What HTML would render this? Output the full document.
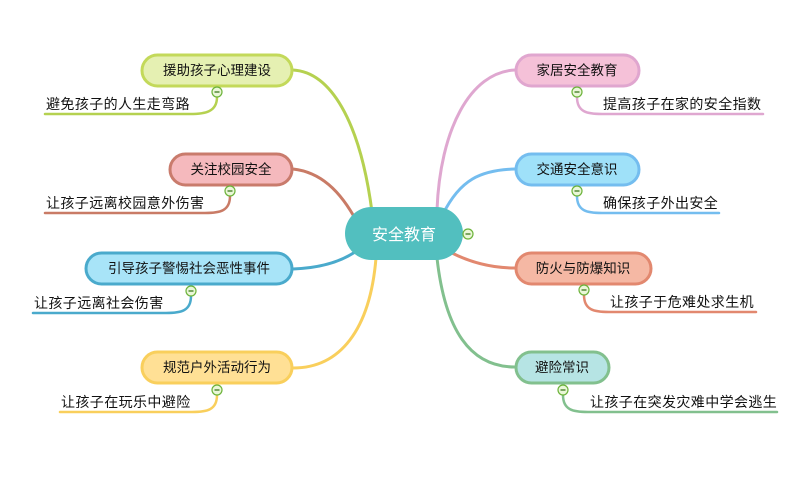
<!DOCTYPE html>
<html><head><meta charset="utf-8"><style>
html,body{margin:0;padding:0;background:#fff;}
svg{display:block;}
text{font-family:"Liberation Sans","Noto Sans CJK SC","WenQuanYi Zen Hei",sans-serif;fill:#111;}
</style></head><body>
<svg width="800" height="481" viewBox="0 0 800 481" xmlns="http://www.w3.org/2000/svg">
<g fill="none" stroke-width="3" stroke-linecap="round">
 <!-- main connectors -->
 <path d="M372,212 C360,120 330,72 293,70" stroke="#b5d150"/>
 <path d="M357,222 C340,190 320,172 293,169" stroke="#c97b66"/>
 <path d="M355,252 C340,262 320,268 293,269" stroke="#4aaacc"/>
 <path d="M376,258 C370,330 340,368 293,368" stroke="#f9cf5c"/>
 <path d="M437,210 C440,130 470,72 515,70" stroke="#dfa7d0"/>
 <path d="M443,214 C460,180 480,170 515,169" stroke="#74bdef"/>
 <path d="M452,253 C470,262 490,268 515,268" stroke="#e2886f"/>
 <path d="M437,258 C445,330 470,367 515,367" stroke="#82c08e"/>
 <!-- sub connectors -->
 <path d="M217,97 C217,112 205,114 190,114 L45,114" stroke="#b5d150" stroke-width="2.5"/>
 <path d="M230,196 C230,211 220,213 205,213 L45,213" stroke="#c97b66" stroke-width="2.5"/>
 <path d="M191,296 C191,311 181,313 166,313 L33,313" stroke="#4aaacc" stroke-width="2.5"/>
 <path d="M217,395 C217,410 207,412 192,412 L60,412" stroke="#f9cf5c" stroke-width="2.5"/>
 <path d="M577,97 C577,112 587,114 602,114 L763,114" stroke="#dfa7d0" stroke-width="2.5"/>
 <path d="M577,196 C577,211 587,213 602,213 L719,213" stroke="#74bdef" stroke-width="2.5"/>
 <path d="M584,295 C584,310 594,312 609,312 L756,312" stroke="#e2886f" stroke-width="2.5"/>
 <path d="M563,395 C563,410 573,412 588,412 L777,412" stroke="#82c08e" stroke-width="2.5"/>
</g>
<!-- nodes -->
<g stroke-width="3">
 <rect x="142" y="55" width="150" height="31" rx="15.5" fill="#e5f0b2" stroke="#c3d95a"/>
 <rect x="170" y="154" width="122" height="31" rx="15.5" fill="#f5b9bd" stroke="#c97b6c"/>
 <rect x="86" y="253" width="206" height="31" rx="15.5" fill="#a8e4f8" stroke="#4aaacc"/>
 <rect x="142" y="352" width="150" height="31" rx="15.5" fill="#ffe095" stroke="#f9cf5c"/>
 <rect x="516" y="55" width="123" height="31" rx="15.5" fill="#f5c1d8" stroke="#e0a6cf"/>
 <rect x="516" y="154" width="123" height="31" rx="15.5" fill="#9fe1f9" stroke="#74bdef"/>
 <rect x="516" y="253" width="135" height="31" rx="15.5" fill="#f5b8a4" stroke="#e2886f"/>
 <rect x="516" y="352" width="93" height="31" rx="15.5" fill="#b6e4e4" stroke="#82c08e"/>
</g>
<rect x="345" y="207" width="118" height="53" rx="26.5" fill="#52bfbf"/>
<text x="404" y="240" font-size="16" text-anchor="middle" style="fill:#fff">安全教育</text>
<g font-size="13.5" text-anchor="middle">
 <text x="217" y="75">援助孩子心理建设</text>
 <text x="231" y="174">关注校园安全</text>
 <text x="189" y="273">引导孩子警惕社会恶性事件</text>
 <text x="217" y="372">规范户外活动行为</text>
 <text x="577" y="75">家居安全教育</text>
 <text x="577" y="174">交通安全意识</text>
 <text x="583" y="273">防火与防爆知识</text>
 <text x="562" y="372">避险常识</text>
</g>
<g font-size="14" letter-spacing="0.4">
 <text x="46" y="109">避免孩子的人生走弯路</text>
 <text x="46" y="208">让孩子远离校园意外伤害</text>
 <text x="34" y="308">让孩子远离社会伤害</text>
 <text x="61" y="407">让孩子在玩乐中避险</text>
 <text x="603" y="109">提高孩子在家的安全指数</text>
 <text x="603" y="208">确保孩子外出安全</text>
 <text x="610" y="307">让孩子于危难处求生机</text>
 <text x="590" y="407">让孩子在突发灾难中学会逃生</text>
</g>
<!-- collapse circles -->
<g fill="#eaf7d8" stroke="#6cb33a" stroke-width="1.2">
 <circle cx="217" cy="92" r="5"/><circle cx="230" cy="191" r="5"/>
 <circle cx="191" cy="291" r="5"/><circle cx="217" cy="390" r="5"/>
 <circle cx="577" cy="92" r="5"/><circle cx="577" cy="191" r="5"/>
 <circle cx="584" cy="290" r="5"/><circle cx="563" cy="390" r="5"/>
 <circle cx="468" cy="234" r="5"/>
</g>
<g stroke="#3d7a1f" stroke-width="1.3">
 <line x1="214.5" y1="92" x2="219.5" y2="92"/><line x1="227.5" y1="191" x2="232.5" y2="191"/>
 <line x1="188.5" y1="291" x2="193.5" y2="291"/><line x1="214.5" y1="390" x2="219.5" y2="390"/>
 <line x1="574.5" y1="92" x2="579.5" y2="92"/><line x1="574.5" y1="191" x2="579.5" y2="191"/>
 <line x1="581.5" y1="290" x2="586.5" y2="290"/><line x1="560.5" y1="390" x2="565.5" y2="390"/>
 <line x1="465.5" y1="234" x2="470.5" y2="234"/>
</g>
</svg>
</body></html>
